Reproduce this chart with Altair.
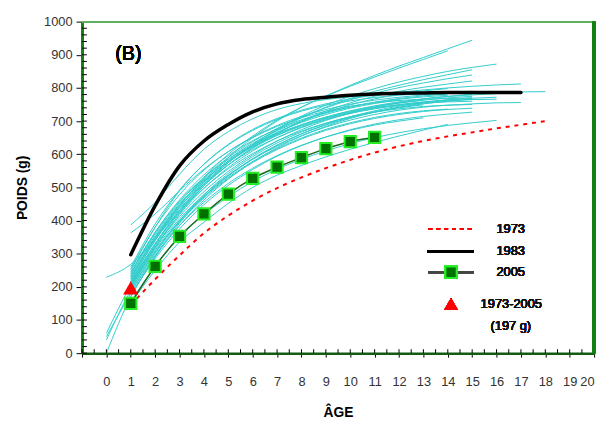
import altair as alt
import pandas as pd

# ---------------- data ----------------
# individual growth curves (cyan): (start age, weights at successive integer ages)
cyan_curves = {
    "c1": (1, [215, 330, 430, 515, 590, 650, 700, 742, 776, 808, 838, 866, 892, 918, 944]),
    "c2": (1, [230, 345, 445, 530, 600, 655, 703, 742, 775, 805, 833, 860, 886, 912]),
    "c3": (1, [200, 320, 420, 505, 575, 630, 675, 715, 748, 775, 798, 818, 835, 850, 862, 872]),
    "c4": (1, [210, 330, 430, 510, 575, 628, 672, 710, 742, 768, 790, 808, 825, 840, 855]),
    "c5": (1, [240, 360, 455, 530, 590, 638, 678, 712, 740, 764, 784, 801, 815, 828, 839]),
    "c6": (1, [225, 345, 440, 515, 575, 625, 665, 700, 730, 755, 775, 790, 802, 812, 821]),
    "c7": (1, [250, 380, 490, 570, 630, 675, 708, 733, 752, 767, 778, 787, 794, 800, 805, 809, 812]),
    "h1": (1, [387, 455, 540, 615, 668, 707, 735, 753, 765, 773, 779, 783, 785, 786, 787, 788, 788, 789]),
    "h2": (1, [363, 420, 490, 555, 608, 650, 684, 710, 730, 745, 755, 762, 766, 768, 770]),
    "b1": (1, [245, 365, 458, 530, 585, 628, 662, 689, 710, 727, 740, 750, 758, 764, 769, 772]),
    "b2": (1, [220, 340, 435, 510, 568, 614, 650, 680, 704, 723, 738, 749, 757, 762, 765, 766]),
    "b3": (1, [200, 315, 405, 478, 537, 585, 624, 656, 682, 703, 720, 733, 742, 748, 752, 755, 756]),
    "b4": (1, [235, 355, 450, 522, 578, 622, 657, 685, 707, 724, 737, 747, 754, 758, 760]),
    "b5": (1, [210, 330, 425, 498, 556, 602, 640, 670, 694, 713, 727, 737, 744, 748, 750]),
    "b6": (1, [190, 305, 395, 468, 527, 575, 614, 646, 672, 692, 708, 720, 729, 735, 739]),
    "b7": (1, [175, 285, 375, 448, 506, 554, 594, 626, 652, 674, 691, 704, 714, 721, 727]),
    "b8": (1, [200, 310, 400, 472, 530, 578, 617, 649, 675, 695, 711, 723, 731, 736]),
    "b9": (1, [155, 262, 350, 418, 472, 518, 555, 585, 610, 632, 650, 665, 677, 687, 695, 702]),
    "b10": (1, [150, 250, 335, 395, 452, 500, 537, 566, 592, 615, 636, 655, 673, 690]),
    "b11": (1, [255, 380, 478, 552, 608, 652, 687, 714, 735, 751, 763, 772, 779, 784, 788]),
    "b12": (1, [230, 350, 448, 525, 585, 633, 671, 701, 724, 742, 756, 766, 773, 778]),
    "b13": (1, [205, 325, 425, 505, 568, 618, 657, 688, 712, 730, 744, 755, 763]),
    "b14": (1, [185, 300, 398, 478, 542, 593, 634, 667, 693, 713, 728, 740, 749]),
    "b15": (1, [215, 340, 440, 518, 580, 628, 666, 696, 720, 739, 753, 764]),
    "b16": (1, [240, 365, 462, 538, 596, 641, 676, 704, 726, 743, 757, 768, 776, 782]),
    "b17": (1, [170, 292, 392, 472, 536, 587, 628, 661, 688, 710, 727, 741, 752, 760, 766]),
    "b18": (1, [195, 318, 418, 497, 560, 610, 650, 682, 707, 727, 742, 754, 763, 770, 775]),
    "b19": (1, [225, 348, 445, 520, 578, 624, 660, 689, 712, 731, 746, 758, 767, 774, 779, 783]),
    "b20": (1, [260, 390, 492, 570, 628, 672, 705, 730, 748, 761, 771, 778, 783, 787, 790]),
    "z1": (0, [0, 170, 290, 385, 462, 525, 577, 620, 655, 684, 708, 727, 742, 754, 763]),
    "z2": (0, [60, 205, 320, 412, 487, 548, 598, 640, 674, 702, 724, 742, 756, 767, 775, 781]),
    "z3": (0, [40, 190, 305, 398, 473, 534, 585, 627, 662, 690, 713, 731, 745, 756, 764, 770]),
    "z4": (0, [50, 180, 295, 385, 455, 512, 558, 596, 627, 652, 672, 688, 700, 710]),
    "z5": (0, [229, 268, 345, 430, 505, 568, 620, 663, 698, 726, 749, 767, 781, 791, 798]),
}

ages_1973 = list(range(1, 19))
w_1973 = [145, 223, 295, 362, 415, 460, 498, 530, 558, 583, 605, 624, 640, 654, 666, 678, 689, 700]

ages_1983 = list(range(1, 18))
w_1983 = [297, 445, 565, 640, 690, 728, 752, 765, 772, 778, 782, 784, 785, 786, 786, 786, 786]

ages_2005 = list(range(1, 12))
w_2005 = [150, 262, 352, 420, 480, 527, 561, 590, 617, 638, 651]

tri_age = [1]
tri_w = [197]

legend_labels = ["1973", "1983", "2005", "1973-2005", "(197 g)"]
panel_label = "(B)"

x_ticks = list(range(-1, 21))
x_minor = [i / 2 for i in range(-2, 41)]
y_ticks = list(range(0, 1001, 100))
y_minor = list(range(0, 1001, 20))

# ---------------- build tables ----------------
rows = []
for cid, (start, vals) in cyan_curves.items():
    for i, v in enumerate(vals):
        rows.append({"id": cid, "age": start + i, "w": v})
cyan_df = pd.DataFrame(rows)
df73 = pd.DataFrame({"age": ages_1973, "w": w_1973})
df83 = pd.DataFrame({"age": ages_1983, "w": w_1983})
df05 = pd.DataFrame({"age": ages_2005, "w": w_2005})
dftri = pd.DataFrame({"age": tri_age, "w": tri_w})
dfxm = pd.DataFrame({"age": x_minor})
dfym = pd.DataFrame({"w": y_minor})

W, H = 519, 336
FONT = "Liberation Sans, Arial, sans-serif"

xscale = alt.Scale(domain=[-1, 20], nice=False, zero=False)
yscale = alt.Scale(domain=[0, 1000], nice=False)

X = alt.X("age:Q", scale=xscale, axis=alt.Axis(
    values=x_ticks, labelExpr="datum.value < 0 ? '' : datum.label",
    title="ÂGE", titleFont=FONT, titleFontSize=14, titleFontWeight="bold",
    titleColor="#000", titlePadding=17,
    labelFont=FONT, labelFontSize=13, labelColor="#333", labelPadding=19,
    tickSize=4, tickColor="#000", tickWidth=1,
    domainColor="#145c14", domainWidth=2.5, grid=False, labelFlush=True))
Y = alt.Y("w:Q", scale=yscale, axis=alt.Axis(
    values=y_ticks, format="d", title="POIDS (g)", titleFont=FONT, titleFontSize=14,
    titleFontWeight="bold", titleColor="#000", titlePadding=14,
    labelFont=FONT, labelFontSize=13, labelColor="#333", labelPadding=4,
    tickSize=6, tickColor="#000", tickWidth=1,
    domainColor="#138013", domainWidth=3, grid=False))

cyan = alt.Chart(cyan_df).mark_line(color="#33cccc", strokeWidth=1,
                                    interpolate="monotone").encode(
    x=X, y=Y, detail="id:N")

l73 = alt.Chart(df73).mark_line(color="#ff0000", strokeWidth=2, strokeDash=[4, 5],
                                interpolate="monotone").encode(x=X, y=Y)
l83 = alt.Chart(df83).mark_line(color="#000000", strokeWidth=3.5, strokeCap="round",
                                interpolate="monotone").encode(x=X, y=Y)
l05 = alt.Chart(df05).mark_line(color="#1a6a1a", strokeWidth=1.5,
                                interpolate="monotone").encode(x=X, y=Y)
p05 = alt.Chart(df05).mark_point(shape="square", filled=True, fill="#007000",
                                 stroke="#22ee22", strokeWidth=2, size=130,
                                 opacity=1).encode(x=X, y=Y)
tri = alt.Chart(dftri).mark_point(shape="triangle-up", filled=True, color="#ff0000",
                                  size=240, opacity=1).encode(x=X, y=Y)

# inward minor ticks
xm = alt.Chart(dfxm).mark_rule(color="#000", strokeWidth=1).encode(
    x=X, y=alt.value(H), y2=alt.value(H - 4))
ym = alt.Chart(dfym).mark_rule(color="#000", strokeWidth=1).encode(
    y=Y, x=alt.value(0), x2=alt.value(5))

# frame (top thin, right thick)
top = alt.Chart(df05).mark_rule(color="#5fb05f", strokeWidth=1.5).encode(
    x=alt.value(0), x2=alt.value(W), y=alt.value(0))
right = alt.Chart(df05).mark_rule(color="#138013", strokeWidth=3).encode(
    x=alt.value(W), y=alt.value(0), y2=alt.value(H))

# panel label
lab = alt.Chart(df05).mark_text(font=FONT, fontSize=20, fontWeight="normal",
                                color="#000", align="center", baseline="middle").encode(
    x=alt.value(47), y=alt.value(33), text=alt.value(panel_label))

# manual legend
lx1, lx2, lxm = 351, 397, 374
leg = [
    alt.Chart(df05).mark_rule(color="#ff0000", strokeWidth=1.5, strokeDash=[4, 4]).encode(
        x=alt.value(lx1), x2=alt.value(lx2), y=alt.value(210)),
    alt.Chart(df05).mark_rule(color="#000", strokeWidth=3).encode(
        x=alt.value(lx1 - 1), x2=alt.value(lx2), y=alt.value(233)),
    alt.Chart(df05).mark_rule(color="#444", strokeWidth=2).encode(
        x=alt.value(lx1), x2=alt.value(lx2), y=alt.value(254)),
    alt.Chart(df05).mark_point(shape="square", filled=True, fill="#007000",
                               stroke="#22ee22", strokeWidth=2, size=130, opacity=1).encode(
        x=alt.value(lxm), y=alt.value(254)),
    alt.Chart(df05).mark_point(shape="triangle-up", filled=True, color="#ff0000",
                               size=180, opacity=1).encode(
        x=alt.value(lxm), y=alt.value(286)),
]
txt_pos = [(420, 210), (420, 233), (420, 254), (404, 286), (414, 309)]
for (tx, ty), t in zip(txt_pos, legend_labels):
    leg.append(alt.Chart(df05).mark_text(font=FONT, fontSize=13, fontWeight="normal",
                                         color="#111", align="left",
                                         baseline="middle").encode(
        x=alt.value(tx), y=alt.value(ty), text=alt.value(t)))

chart = alt.layer(cyan, l73, l83, l05, p05, tri, xm, ym, top, right, lab, *leg).properties(
    width=W, height=H,
    autosize=alt.AutoSizeParams(type="none"),
    padding={"left": 75, "top": 11, "right": 7, "bottom": 72},
).configure_view(stroke=None)

chart.save("out.html", embed_options={"renderer": "svg", "actions": False})
